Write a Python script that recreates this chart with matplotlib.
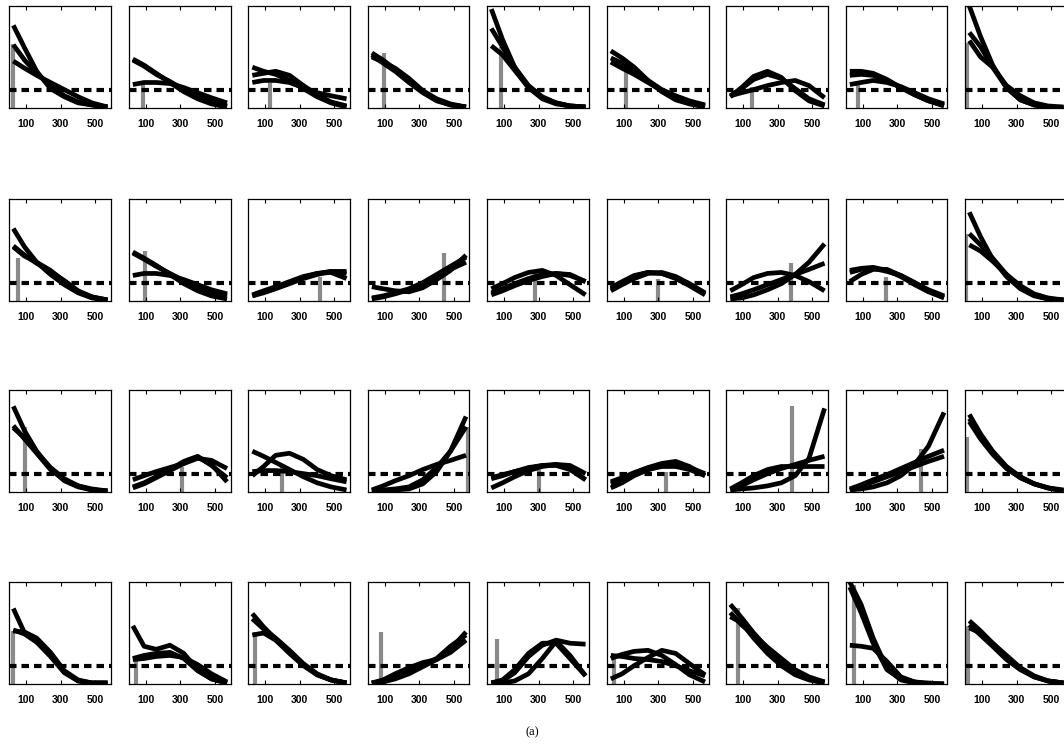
import matplotlib
matplotlib.use('Agg')
import matplotlib.pyplot as plt
from matplotlib import font_manager

# x positions (same for every curve) and tick labels
sample_x = [25, 90, 160, 240, 320, 400, 480, 570]
xticks = [100, 300, 500]
threshold = 0.18

# three fitted curves per panel, 36 panels (4 rows x 9 columns)
curves_a = [
    # row 1
    [0.81, 0.59, 0.36, 0.19, 0.11, 0.05, 0.03, 0.01],
    [0.48, 0.42, 0.34, 0.25, 0.16, 0.09, 0.04, 0.01],
    [0.40, 0.36, 0.33, 0.27, 0.19, 0.11, 0.05, 0.01],
    [0.54, 0.47, 0.38, 0.27, 0.16, 0.08, 0.03, 0.01],
    [0.97, 0.67, 0.40, 0.20, 0.09, 0.04, 0.02, 0.01],
    [0.56, 0.49, 0.40, 0.27, 0.18, 0.12, 0.07, 0.03],
    [0.11, 0.20, 0.31, 0.36, 0.30, 0.17, 0.07, 0.02],
    [0.36, 0.36, 0.34, 0.28, 0.20, 0.13, 0.07, 0.02],
    [1.00, 0.70, 0.42, 0.20, 0.08, 0.03, 0.01, 0.00],
    # row 2
    [0.71, 0.53, 0.38, 0.26, 0.16, 0.08, 0.03, 0.01],
    [0.48, 0.42, 0.35, 0.26, 0.17, 0.10, 0.05, 0.02],
    [0.05, 0.09, 0.13, 0.18, 0.23, 0.27, 0.29, 0.29],
    [0.14, 0.12, 0.10, 0.09, 0.13, 0.21, 0.30, 0.45],
    [0.12, 0.17, 0.23, 0.28, 0.30, 0.25, 0.16, 0.06],
    [0.12, 0.18, 0.24, 0.28, 0.27, 0.22, 0.15, 0.06],
    [0.10, 0.16, 0.23, 0.27, 0.28, 0.25, 0.19, 0.10],
    [0.30, 0.32, 0.33, 0.30, 0.24, 0.16, 0.09, 0.03],
    [0.87, 0.63, 0.41, 0.24, 0.12, 0.05, 0.02, 0.01],
    # row 3
    [0.84, 0.60, 0.40, 0.23, 0.11, 0.05, 0.02, 0.01],
    [0.12, 0.16, 0.20, 0.24, 0.28, 0.34, 0.27, 0.10],
    [0.40, 0.35, 0.29, 0.22, 0.15, 0.09, 0.05, 0.02],
    [0.01, 0.01, 0.02, 0.03, 0.08, 0.20, 0.40, 0.74],
    [0.13, 0.16, 0.20, 0.23, 0.26, 0.27, 0.23, 0.12],
    [0.10, 0.14, 0.19, 0.24, 0.28, 0.30, 0.25, 0.16],
    [0.02, 0.03, 0.04, 0.06, 0.09, 0.16, 0.33, 0.82],
    [0.02, 0.03, 0.05, 0.09, 0.16, 0.27, 0.45, 0.78],
    [0.76, 0.57, 0.40, 0.25, 0.15, 0.08, 0.04, 0.01],
    # row 4
    [0.74, 0.50, 0.43, 0.29, 0.12, 0.03, 0.01, 0.01],
    [0.57, 0.37, 0.34, 0.38, 0.30, 0.14, 0.05, 0.01],
    [0.69, 0.56, 0.44, 0.32, 0.19, 0.09, 0.04, 0.01],
    [0.01, 0.04, 0.10, 0.16, 0.21, 0.24, 0.34, 0.51],
    [0.01, 0.04, 0.14, 0.30, 0.40, 0.40, 0.25, 0.08],
    [0.28, 0.27, 0.25, 0.24, 0.22, 0.18, 0.13, 0.08],
    [0.78, 0.65, 0.50, 0.35, 0.22, 0.12, 0.05, 0.02],
    [1.00, 0.78, 0.45, 0.15, 0.04, 0.01, 0.00, 0.00],
    [0.62, 0.52, 0.40, 0.26, 0.15, 0.07, 0.03, 0.01],
]

curves_b = [
    # row 1
    [0.46, 0.39, 0.32, 0.25, 0.18, 0.11, 0.05, 0.01],
    [0.47, 0.41, 0.33, 0.26, 0.18, 0.11, 0.06, 0.02],
    [0.32, 0.34, 0.36, 0.32, 0.22, 0.13, 0.06, 0.02],
    [0.52, 0.44, 0.36, 0.25, 0.15, 0.07, 0.03, 0.01],
    [0.78, 0.60, 0.40, 0.22, 0.11, 0.05, 0.02, 0.01],
    [0.49, 0.44, 0.37, 0.27, 0.16, 0.08, 0.04, 0.01],
    [0.12, 0.19, 0.28, 0.33, 0.29, 0.19, 0.09, 0.03],
    [0.32, 0.33, 0.32, 0.27, 0.20, 0.13, 0.07, 0.03],
    [0.74, 0.60, 0.40, 0.20, 0.08, 0.03, 0.01, 0.00],
    # row 2
    [0.54, 0.45, 0.37, 0.29, 0.20, 0.10, 0.04, 0.01],
    [0.47, 0.41, 0.34, 0.27, 0.20, 0.14, 0.09, 0.05],
    [0.06, 0.10, 0.14, 0.19, 0.24, 0.27, 0.28, 0.22],
    [0.02, 0.04, 0.07, 0.11, 0.17, 0.24, 0.31, 0.38],
    [0.06, 0.10, 0.15, 0.20, 0.24, 0.27, 0.26, 0.19],
    [0.10, 0.16, 0.22, 0.27, 0.28, 0.24, 0.17, 0.08],
    [0.02, 0.03, 0.06, 0.11, 0.17, 0.26, 0.38, 0.56],
    [0.19, 0.26, 0.31, 0.31, 0.25, 0.18, 0.10, 0.04],
    [0.66, 0.55, 0.42, 0.26, 0.13, 0.06, 0.02, 0.01],
    # row 3
    [0.63, 0.53, 0.39, 0.24, 0.13, 0.06, 0.02, 0.01],
    [0.04, 0.08, 0.14, 0.21, 0.28, 0.33, 0.31, 0.23],
    [0.16, 0.25, 0.36, 0.38, 0.32, 0.22, 0.16, 0.12],
    [0.01, 0.02, 0.03, 0.05, 0.12, 0.24, 0.40, 0.64],
    [0.04, 0.09, 0.15, 0.21, 0.25, 0.27, 0.26, 0.18],
    [0.04, 0.09, 0.16, 0.22, 0.26, 0.27, 0.24, 0.18],
    [0.03, 0.09, 0.16, 0.22, 0.25, 0.25, 0.25, 0.25],
    [0.03, 0.07, 0.12, 0.17, 0.23, 0.29, 0.35, 0.41],
    [0.69, 0.52, 0.37, 0.23, 0.14, 0.08, 0.04, 0.01],
    # row 4
    [0.52, 0.51, 0.45, 0.31, 0.13, 0.04, 0.01, 0.01],
    [0.25, 0.28, 0.30, 0.31, 0.25, 0.13, 0.05, 0.01],
    [0.64, 0.54, 0.45, 0.33, 0.20, 0.10, 0.04, 0.01],
    [0.01, 0.02, 0.05, 0.10, 0.17, 0.24, 0.31, 0.43],
    [0.01, 0.03, 0.11, 0.27, 0.38, 0.43, 0.40, 0.39],
    [0.05, 0.10, 0.18, 0.26, 0.33, 0.30, 0.20, 0.09],
    [0.70, 0.58, 0.48, 0.36, 0.25, 0.14, 0.07, 0.02],
    [0.38, 0.37, 0.35, 0.22, 0.07, 0.02, 0.00, 0.00],
    [0.55, 0.50, 0.40, 0.28, 0.16, 0.08, 0.03, 0.01],
]

curves_c = [
    # row 1
    [0.62, 0.47, 0.34, 0.22, 0.12, 0.06, 0.03, 0.01],
    [0.23, 0.25, 0.25, 0.24, 0.20, 0.15, 0.10, 0.05],
    [0.25, 0.27, 0.27, 0.25, 0.20, 0.15, 0.12, 0.09],
    [0.50, 0.45, 0.39, 0.29, 0.17, 0.09, 0.04, 0.01],
    [0.61, 0.52, 0.37, 0.20, 0.10, 0.05, 0.02, 0.01],
    [0.45, 0.39, 0.33, 0.25, 0.17, 0.10, 0.05, 0.02],
    [0.12, 0.15, 0.18, 0.22, 0.25, 0.27, 0.22, 0.10],
    [0.23, 0.25, 0.27, 0.25, 0.21, 0.15, 0.09, 0.04],
    [0.66, 0.50, 0.40, 0.22, 0.12, 0.05, 0.02, 0.01],
    # row 2
    [0.53, 0.44, 0.38, 0.30, 0.19, 0.09, 0.04, 0.01],
    [0.25, 0.27, 0.27, 0.25, 0.21, 0.16, 0.11, 0.07],
    [0.05, 0.08, 0.12, 0.17, 0.22, 0.26, 0.29, 0.27],
    [0.03, 0.05, 0.08, 0.12, 0.18, 0.26, 0.34, 0.43],
    [0.08, 0.12, 0.17, 0.22, 0.26, 0.27, 0.25, 0.19],
    [0.13, 0.19, 0.25, 0.28, 0.27, 0.23, 0.16, 0.07],
    [0.04, 0.07, 0.11, 0.16, 0.21, 0.26, 0.31, 0.37],
    [0.28, 0.31, 0.32, 0.29, 0.25, 0.18, 0.11, 0.05],
    [0.55, 0.49, 0.39, 0.26, 0.15, 0.07, 0.03, 0.01],
    # row 3
    [0.65, 0.52, 0.38, 0.22, 0.12, 0.06, 0.03, 0.01],
    [0.05, 0.09, 0.15, 0.22, 0.30, 0.35, 0.26, 0.14],
    [0.20, 0.21, 0.21, 0.20, 0.18, 0.16, 0.13, 0.10],
    [0.02, 0.06, 0.11, 0.16, 0.22, 0.27, 0.31, 0.36],
    [0.14, 0.17, 0.20, 0.24, 0.26, 0.26, 0.22, 0.12],
    [0.08, 0.12, 0.17, 0.22, 0.25, 0.25, 0.22, 0.16],
    [0.02, 0.06, 0.12, 0.18, 0.23, 0.27, 0.31, 0.35],
    [0.02, 0.06, 0.10, 0.15, 0.20, 0.25, 0.30, 0.35],
    [0.72, 0.55, 0.39, 0.24, 0.14, 0.08, 0.04, 0.02],
    # row 4
    [0.53, 0.49, 0.41, 0.27, 0.11, 0.03, 0.01, 0.01],
    [0.24, 0.25, 0.27, 0.28, 0.26, 0.19, 0.10, 0.02],
    [0.48, 0.50, 0.43, 0.30, 0.18, 0.09, 0.04, 0.01],
    [0.01, 0.03, 0.07, 0.13, 0.19, 0.25, 0.37, 0.48],
    [0.01, 0.01, 0.03, 0.10, 0.25, 0.42, 0.28, 0.08],
    [0.25, 0.29, 0.32, 0.33, 0.28, 0.19, 0.09, 0.02],
    [0.66, 0.60, 0.45, 0.30, 0.18, 0.09, 0.04, 0.01],
    [0.95, 0.70, 0.40, 0.14, 0.05, 0.02, 0.01, 0.00],
    [0.58, 0.48, 0.37, 0.24, 0.14, 0.07, 0.03, 0.01],
]

# observed value per panel: position and height of the gray bar
bar_x = [21, 83, 126, 94, 80, 110, 152, 75, 10,
         54, 96, 415, 445, 275, 298, 375, 235, 6,
         92, 310, 199, 580, 298, 346, 383, 437, 13,
         21, 44, 39, 77, 56, 46, 69, 52, 17]
bar_h = [0.63, 0.25, 0.25, 0.54, 0.60, 0.48, 0.21, 0.24, 0.64,
         0.42, 0.49, 0.24, 0.47, 0.28, 0.22, 0.37, 0.24, 0.66,
         0.64, 0.25, 0.25, 0.64, 0.22, 0.20, 0.84, 0.42, 0.54,
         0.52, 0.26, 0.51, 0.51, 0.44, 0.29, 0.75, 0.97, 0.57]

# pick the regular-width bold Liberation Sans file (not the Narrow one)
tick_font = None
for f in font_manager.fontManager.ttflist:
    if f.name == 'Liberation Sans' and f.weight in (700, 'bold') and f.style == 'normal':
        tick_font = font_manager.FontProperties(fname=f.fname, size=7.5)
        break
if tick_font is None:
    tick_font = font_manager.FontProperties(family='DejaVu Sans', weight='bold', size=7)

W, H = 1064, 756
fig = plt.figure(figsize=(W / 100, H / 100), dpi=100)

col_left = [9 + 119.5 * c for c in range(9)]
row_top = [6, 199, 390, 582]
box = 102

for i in range(36):
    r, c = divmod(i, 9)
    ax = fig.add_axes([col_left[c] / W, (H - row_top[r] - box) / H, box / W, box / H])
    ax.plot([bar_x[i], bar_x[i]], [0, bar_h[i]], color='#8a8a8a', lw=3,
            solid_capstyle='butt', zorder=1)
    ax.axhline(threshold, color='black', lw=3, dashes=(1.8, 1.2), zorder=2)
    for curves in (curves_a, curves_b, curves_c):
        ax.plot(sample_x, curves[i], color='black', lw=3.4,
                solid_joinstyle='round', solid_capstyle='butt', zorder=3)
    ax.set_xlim(0, 590)
    ax.set_ylim(0, 1)
    ax.set_xticks(xticks)
    ax.set_yticks([])
    ax.tick_params(axis='x', direction='in', top=True, length=3, width=0.8, pad=8)
    for lab in ax.get_xticklabels():
        lab.set_fontproperties(tick_font)
    for sp in ax.spines.values():
        sp.set_linewidth(0.9)

fig.text(0.5, 1 - 732 / H, '(a)', ha='center', va='center',
         family='Liberation Serif', fontsize=9)

fig.savefig('out.png', dpi=100)
